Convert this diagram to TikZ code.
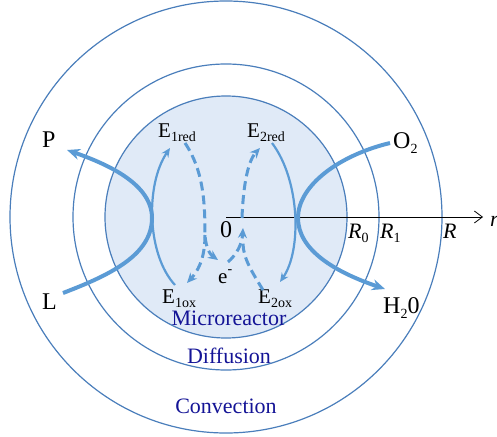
\documentclass[tikz,border=0pt]{standalone}
\usepackage{fontspec}
\setmainfont{Liberation Serif}
\usepackage{tikz}
\usetikzlibrary{arrows.meta,calc}

\definecolor{ringblue}{RGB}{74,126,187}
\definecolor{flowblue}{RGB}{91,155,213}
\definecolor{fillblue}{RGB}{224,234,247}
\definecolor{zoneblue}{RGB}{20,20,150}

\newcommand{\lo}[1]{\raisebox{-0.22em}{\fontsize{14}{14}\selectfont #1}}
\newcommand{\hi}[1]{\raisebox{0.45em}{\fontsize{14}{14}\selectfont #1}}

\begin{document}
\begin{tikzpicture}[
  x=1pt, y=-1pt,
  ring/.style={draw=ringblue, line width=1.2pt},
  flow/.style={draw=flowblue, line width=4pt, -{Stealth[length=13pt,width=11pt]}},
  redox/.style={draw=flowblue, line width=2.2pt, -{Stealth[length=9pt,width=8pt]}},
  etrans/.style={draw=flowblue, line width=3pt, dash pattern=on 9pt off 5pt},
  lbl/.style={inner sep=0pt, anchor=base west, font=\fontsize{24}{24}\selectfont},
  elbl/.style={inner sep=0pt, anchor=base west, font=\fontsize{21}{21}\selectfont},
  rlbl/.style={inner sep=0pt, anchor=base west, font=\fontsize{22}{22}\selectfont\itshape},
  zone/.style={inner sep=0pt, anchor=base, text=zoneblue, font=\fontsize{22}{22}\selectfont}
]
\useasboundingbox (0,0) rectangle (497,436);

% shells
\coordinate (ctr) at (226,217);
\draw[ring] (ctr) circle[radius=216];
\draw[ring] (ctr) circle[radius=153];
\draw[ring, fill=fillblue] (ctr) circle[radius=121];

% radial axis
\coordinate (rend) at (483,217);
\draw[line width=0.8pt, -{Straight Barb[length=8pt,width=12pt]}] (ctr) -- (rend);
\node[rlbl] (r0) at (348,238) {R\upshape\lo{0}};
\node[rlbl] (r1) at (380,238) {R\upshape\lo{1}};
\node[rlbl] (rr) at (443,238) {R};
\node[rlbl] (rvar) at (490,226) {r};

% species
\node[lbl] (p) at (42,147) {P};
\node[lbl] (l) at (42,309) {L};
\node[lbl] (o2) at (393,148) {O\lo{2}};
\node[lbl] (h2o) at (383,313) {H\lo{2}0};
\node[elbl] (e1red) at (158,137) {E\lo{1red}};
\node[elbl] (e2red) at (247,137) {E\lo{2red}};
\node[elbl] (e1ox) at (162,303) {E\lo{1ox}};
\node[elbl] (e2ox) at (258,303) {E\lo{2ox}};
\node[elbl] (elec) at (218,283) {e\hi{-}};
\node[lbl] (zero) at (220,237) {0};

% zones
\node[zone] (micro) at (229,325) {Microreactor};
\node[zone] (diff) at (229,363) {Diffusion};
\node[zone] (conv) at (226,413) {Convection};

% substrate fluxes
\coordinate (lin) at (63,293);
\coordinate (lv) at (152,218);
\coordinate (pout) at (67,150);
\draw[flow] (lin) .. controls (110,275) and (152,255) .. (lv)
  .. controls (152,185) and (110,165) .. (pout);
\coordinate (o2in) at (390,143);
\coordinate (rv) at (298,218);
\coordinate (h2oout) at (385,289);
\draw[flow] (o2in) .. controls (340,155) and (298,185) .. (rv)
  .. controls (298,250) and (335,272) .. (h2oout);

% enzyme turnover
\coordinate (e1a) at (175,285);
\coordinate (e1b) at (170,148);
\draw[redox] (e1a) .. controls (147,255) and (145,185) .. (e1b);
\coordinate (e2a) at (272,143);
\coordinate (e2b) at (280,282);
\draw[redox] (e2a) .. controls (300,180) and (302,250) .. (e2b);

% electron transfer
\coordinate (a0) at (185,143);
\coordinate (j1) at (205,235);
\coordinate (a1) at (218,260);
\coordinate (b1) at (187,283);
\coordinate (c0) at (228,262);
\coordinate (c1) at (243,228);
\coordinate (d0) at (263,290);
\coordinate (j2) at (243,243);
\coordinate (f0) at (242,218);
\coordinate (f1) at (260,148);
\draw[etrans, -{Stealth[length=10pt,width=9pt]}] (a0) .. controls (203,170) and (205,200) .. (j1)
  .. controls (206,250) and (211,255) .. (a1);
\draw[etrans, -{Stealth[length=10pt,width=9pt]}] (j1) .. controls (205,260) and (197,272) .. (b1);
\draw[etrans, -{Stealth[length=10pt,width=9pt]}] (c0) .. controls (236,255) and (242,245) .. (c1);
\draw[etrans] (d0) .. controls (252,272) and (243,258) .. (j2);
\draw[etrans, -{Stealth[length=10pt,width=9pt]}] (f0) .. controls (243,190) and (247,162) .. (f1);
\end{tikzpicture}
\end{document}
